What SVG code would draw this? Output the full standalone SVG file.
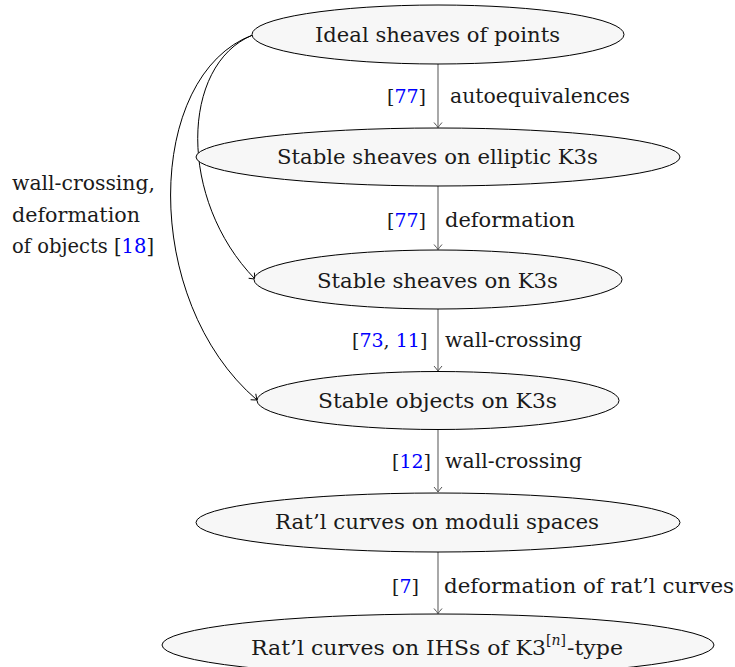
<svg xmlns="http://www.w3.org/2000/svg" width="735" height="667" viewBox="0 0 735 667">
<defs>
<style>
text{font-family:'DejaVu Serif','Liberation Serif',serif;font-size:21px;fill:#1a1a1a}
text.br{font-size:19px}
text.side{font-size:19.5px}
.ref{fill:#0000ff}
.node ellipse{fill:#f7f7f7;stroke:#000;stroke-width:1}
.vline{stroke:#7a7a7a;stroke-width:1.3;fill:none}
.curve{stroke:#000;stroke-width:1;fill:none}
</style>
<marker id="ahg" viewBox="-6 -5 7 10" refX="0" refY="0" markerWidth="7" markerHeight="10" markerUnits="userSpaceOnUse" orient="auto">
<path d="M-5,-4 Q-1.5,-1 0,0 Q-1.5,1 -5,4" fill="none" stroke="#555" stroke-width="1"/>
</marker>
<marker id="ahk" viewBox="-6 -5 7 10" refX="0" refY="0" markerWidth="7" markerHeight="10" markerUnits="userSpaceOnUse" orient="auto">
<path d="M-5,-4 Q-1.5,-1 0,0 Q-1.5,1 -5,4" fill="none" stroke="#000" stroke-width="1"/>
</marker>
</defs>
<g id="connectors">
<line class="vline" x1="438" y1="64" x2="438" y2="127.5" marker-end="url(#ahg)"/>
<line class="vline" x1="438" y1="186" x2="438" y2="249.5" marker-end="url(#ahg)"/>
<line class="vline" x1="438" y1="309" x2="438" y2="371" marker-end="url(#ahg)"/>
<line class="vline" x1="438" y1="429.5" x2="438" y2="492" marker-end="url(#ahg)"/>
<line class="vline" x1="438" y1="552" x2="438" y2="613.5" marker-end="url(#ahg)"/>
<path class="curve" d="M252.7,35 C180,65 178,200 255,279" marker-end="url(#ahk)"/>
<path class="curve" d="M252.7,35 C145,75 140,300 257,400" marker-end="url(#ahk)"/>
</g>
<g id="n1" class="node"><ellipse cx="438" cy="34.5" rx="186" ry="29.5"/><text x="315" y="42" textLength="245" lengthAdjust="spacingAndGlyphs">Ideal sheaves of points</text></g>
<g id="n2" class="node"><ellipse cx="438" cy="157" rx="242" ry="29"/><text x="277" y="163.5" textLength="321" lengthAdjust="spacingAndGlyphs">Stable sheaves on elliptic K3s</text></g>
<g id="n3" class="node"><ellipse cx="438" cy="279.5" rx="184" ry="29.5"/><text x="317" y="288" textLength="241" lengthAdjust="spacingAndGlyphs">Stable sheaves on K3s</text></g>
<g id="n4" class="node"><ellipse cx="438" cy="400.5" rx="181" ry="29"/><text x="318" y="407.5" textLength="239" lengthAdjust="spacingAndGlyphs">Stable objects on K3s</text></g>
<g id="n5" class="node"><ellipse cx="438" cy="522.5" rx="242" ry="29.5"/><text x="275" y="528.5" textLength="324" lengthAdjust="spacingAndGlyphs">Rat’l curves on moduli spaces</text></g>
<g id="n6" class="node"><ellipse cx="438" cy="645" rx="276" ry="31"/><text x="251" y="655" textLength="295" lengthAdjust="spacingAndGlyphs">Rat’l curves on IHSs of K3</text><text x="546" y="645" style="font-size:14px">[<tspan font-style="italic">n</tspan>]</text><text x="567" y="655" textLength="56" lengthAdjust="spacingAndGlyphs">-type</text></g>
<g id="labels">
<text class="br" x="387" y="103">[<tspan class="ref">77</tspan>]</text>
<text x="450" y="103" textLength="180" lengthAdjust="spacingAndGlyphs">autoequivalences</text>
<text class="br" x="387" y="227">[<tspan class="ref">77</tspan>]</text>
<text x="445" y="227" textLength="130" lengthAdjust="spacingAndGlyphs">deformation</text>
<text class="br" x="352" y="347">[<tspan class="ref">73</tspan>, <tspan class="ref">11</tspan>]</text>
<text x="445" y="347" textLength="137" lengthAdjust="spacingAndGlyphs">wall-crossing</text>
<text class="br" x="392" y="468">[<tspan class="ref">12</tspan>]</text>
<text x="445" y="468" textLength="137" lengthAdjust="spacingAndGlyphs">wall-crossing</text>
<text class="br" x="392" y="593">[<tspan class="ref">7</tspan>]</text>
<text x="444" y="593" textLength="290" lengthAdjust="spacingAndGlyphs">deformation of rat’l curves</text>
<text class="side" x="12" y="190" textLength="143" lengthAdjust="spacingAndGlyphs">wall-crossing,</text>
<text class="side" x="12" y="222" textLength="128" lengthAdjust="spacingAndGlyphs">deformation</text>
<text class="side" x="12" y="253">of objects [<tspan class="ref">18</tspan>]</text>
</g>
</svg>
